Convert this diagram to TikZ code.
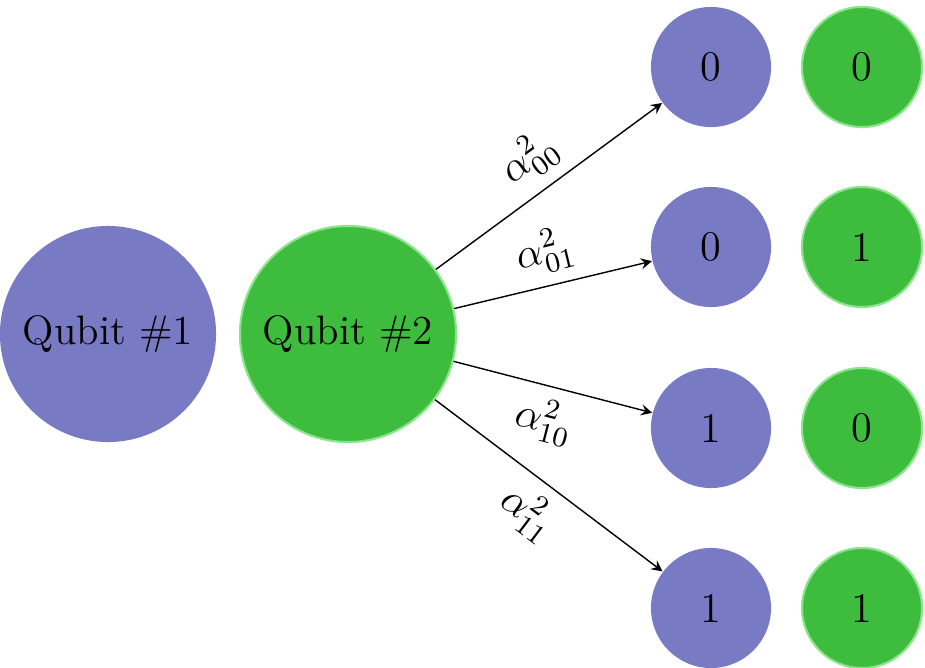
\documentclass[tikz,border=0pt]{standalone}
\usepackage{amsmath}
\usepackage{tikz}
\definecolor{qblue}{RGB}{120,122,196}
\definecolor{qgreen}{RGB}{62,188,62}
\definecolor{qedge}{RGB}{140,228,140}
\tikzset{
  bigq/.style={shape=circle,minimum size=2.16cm,inner sep=0pt,font=\fontsize{11.7}{14}\selectfont},
  smallq/.style={shape=circle,minimum size=1.2cm,inner sep=0pt,font=\large},
  bq/.style={fill=qblue},
  gq/.style={fill=qgreen,draw=qedge,line width=0.6pt}
}
\begin{document}
\begin{tikzpicture}[x=0.01cm,y=-0.01cm,>=stealth]
	\useasboundingbox (0,0) rectangle (925,667);
	
	\node[bigq,bq] (q1) at (108, 334) {Qubit \#1};
	\node[bigq,gq] (q2) at (348, 334) {Qubit \#2};
	\node[smallq,bq] (a) at (711, 67)  {0};
	\node[smallq,gq] (b) at (862, 67)  {0};
	\node[smallq,bq] (c) at (711, 247) {0};
	\node[smallq,gq] (d) at (862, 247) {1};
	\node[smallq,bq] (e) at (711, 428) {1};
	\node[smallq,gq] (f) at (862, 428) {0};
	\node[smallq,bq] (g) at (711, 608) {1};
	\node[smallq,gq] (h) at (862, 608) {1};
	\draw[->] (q2) -- node[above,sloped] {\large$\alpha^2_{00}$} (a);
	\draw[->] (q2) -- node[above,sloped] {\large$\alpha^2_{01}$} (c);
	\draw[->] (q2) -- node[below,sloped] {\large$\alpha^2_{10}$} (e);
	\draw[->] (q2) -- node[below,sloped] {\large$\alpha^2_{11}$} (g);
	
\end{tikzpicture}
\end{document}
